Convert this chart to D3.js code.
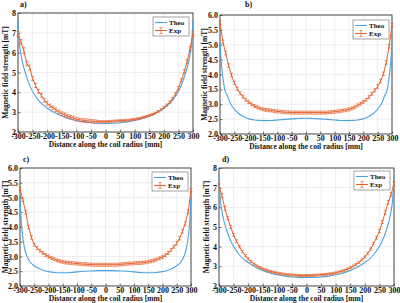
<!DOCTYPE html>
<html>
<head>
<meta charset="utf-8">
<script src="https://cdn.jsdelivr.net/npm/d3@7"></script>
<style>
body { margin: 0; background: #fff; }
svg text { font-family: "Liberation Serif", "Times New Roman", serif; font-weight: bold; fill: #111; }
</style>
</head>
<body>
<svg id="fig" width="400" height="303" font-family="Liberation Serif, serif" font-weight="bold"></svg>
<script>
// x positions (mm)
var expX = d3.range(-300, 301, 10);
var theoX = [-300,-297,-293,-288,-282,-275,-265,-255,-245,-235,-225,-210,-195,-180,-160,-140,-120,-100,-75,-50,-25,0,
	25,50,75,100,120,140,160,180,195,210,225,235,245,255,265,275,282,288,293,297,300];

// theoretical curves
var theoA = [7.7,6.8,6.2,5.75,5.35,5.0,4.55,4.2,3.92,3.7,3.52,3.32,3.15,3.02,2.87,2.75,2.66,2.58,2.51,2.47,2.44,2.43,
	2.44,2.47,2.51,2.58,2.66,2.75,2.87,3.02,3.15,3.32,3.52,3.7,3.92,4.2,4.55,5.0,5.35,5.75,6.2,6.8,7.7];
var theoB = [5.1,4.6,4.15,3.75,3.45,3.3,3.05,2.9,2.78,2.69,2.62,2.55,2.5,2.47,2.455,2.45,2.455,2.47,2.49,2.51,2.52,2.53,
	2.52,2.51,2.49,2.47,2.455,2.45,2.455,2.47,2.5,2.55,2.62,2.69,2.78,2.9,3.05,3.3,3.45,3.75,4.15,4.6,5.1];
var theoC = [5.0,4.4,3.9,3.5,3.2,3.0,2.82,2.72,2.65,2.6,2.56,2.51,2.48,2.46,2.45,2.45,2.46,2.48,2.5,2.51,2.52,2.52,
	2.52,2.51,2.5,2.48,2.46,2.45,2.45,2.46,2.48,2.51,2.56,2.6,2.65,2.72,2.82,3.0,3.2,3.5,3.9,4.4,5.0];
var theoD = [7.65,6.7,6.1,5.65,5.25,4.9,4.48,4.15,3.9,3.68,3.5,3.3,3.14,3.0,2.85,2.73,2.64,2.57,2.5,2.46,2.44,2.43,
	2.44,2.46,2.5,2.57,2.64,2.73,2.85,3.0,3.14,3.3,3.5,3.68,3.9,4.15,4.48,4.9,5.25,5.65,6.1,6.7,7.65];

// experimental values, -300..300 step 10
var expA = [6.95,6.55,6.1,5.45,5.25,4.7,4.35,4.05,3.85,3.6,3.45,3.32,3.22,3.12,3.02,2.93,2.87,2.8,2.74,2.7,2.65,
	2.62,2.6,2.58,2.56,2.55,2.54,2.53,2.52,2.52,2.52,2.53,2.54,2.55,2.56,2.57,2.58,2.59,2.6,2.62,2.64,
	2.67,2.7,2.74,2.78,2.83,2.88,2.95,3.03,3.12,3.24,3.36,3.5,3.68,3.92,4.22,4.6,5.05,5.55,6.2,7.0];
var errA = [0.12,0.12,0.15,0.12,0.12,0.1,0.1,0.1,0.1,0.1,0.1,0.09,0.09,0.09,0.09,0.09,0.09,0.09,0.09,0.09,0.09,
	0.09,0.09,0.09,0.09,0.08,0.08,0.07,0.06,0.05,0.05,0.05,0.05,0.05,0.05,0.05,0.05,0.05,0.05,0.05,0.05,
	0.05,0.05,0.05,0.05,0.05,0.05,0.05,0.05,0.05,0.05,0.05,0.06,0.06,0.07,0.08,0.08,0.1,0.1,0.1,0.12];
var expB = [5.75,5.1,4.72,4.3,3.98,3.72,3.52,3.37,3.25,3.15,3.07,3.0,2.94,2.9,2.86,2.83,2.81,2.8,2.79,2.77,2.76,
	2.75,2.74,2.73,2.73,2.72,2.72,2.72,2.72,2.72,2.72,2.72,2.72,2.72,2.72,2.72,2.72,2.72,2.73,2.74,2.75,
	2.76,2.77,2.79,2.8,2.83,2.86,2.9,2.96,3.02,3.08,3.15,3.24,3.35,3.47,3.6,3.78,4.02,4.4,4.95,5.65];
var errB = [0.06,0.06,0.06,0.06,0.06,0.05,0.05,0.05,0.05,0.05,0.05,0.05,0.05,0.05,0.05,0.05,0.05,0.05,0.05,0.05,0.05,
	0.05,0.05,0.05,0.05,0.05,0.05,0.05,0.05,0.05,0.05,0.05,0.05,0.05,0.05,0.05,0.05,0.05,0.05,0.05,0.05,
	0.05,0.05,0.05,0.05,0.05,0.05,0.05,0.05,0.05,0.05,0.05,0.05,0.05,0.05,0.06,0.06,0.06,0.06,0.06,0.06];
var expC = [5.3,4.92,4.5,4.0,3.65,3.4,3.28,3.2,3.12,3.05,3.0,2.95,2.91,2.87,2.84,2.82,2.8,2.79,2.78,2.77,2.76,
	2.75,2.74,2.74,2.73,2.73,2.72,2.72,2.72,2.72,2.72,2.72,2.72,2.72,2.72,2.73,2.74,2.75,2.76,2.76,2.77,
	2.78,2.78,2.79,2.8,2.82,2.84,2.87,2.9,2.94,2.98,3.04,3.12,3.22,3.33,3.45,3.62,3.85,4.12,4.52,5.25];
var errC = [0.06,0.06,0.06,0.06,0.06,0.05,0.05,0.05,0.05,0.05,0.05,0.05,0.05,0.05,0.05,0.05,0.05,0.05,0.05,0.05,0.05,
	0.05,0.05,0.05,0.05,0.05,0.05,0.05,0.05,0.05,0.05,0.05,0.05,0.05,0.05,0.05,0.05,0.05,0.05,0.05,0.05,
	0.05,0.05,0.05,0.05,0.05,0.05,0.05,0.05,0.05,0.05,0.05,0.05,0.05,0.05,0.06,0.06,0.06,0.06,0.06,0.06];
var expD = [7.1,6.6,5.95,5.45,5.0,4.6,4.28,4.0,3.75,3.55,3.38,3.24,3.12,3.02,2.94,2.87,2.82,2.77,2.73,2.69,2.66,
	2.63,2.61,2.59,2.57,2.56,2.55,2.54,2.53,2.53,2.53,2.53,2.54,2.55,2.56,2.57,2.58,2.6,2.62,2.64,2.67,
	2.71,2.75,2.8,2.86,2.93,3.01,3.1,3.2,3.33,3.48,3.66,3.88,4.15,4.45,4.8,5.25,5.75,6.25,6.65,7.2];
var errD = [0.1,0.1,0.1,0.08,0.08,0.07,0.07,0.06,0.06,0.06,0.06,0.05,0.05,0.05,0.05,0.05,0.05,0.05,0.05,0.05,0.05,
	0.05,0.05,0.05,0.05,0.05,0.05,0.05,0.05,0.05,0.05,0.05,0.05,0.05,0.05,0.05,0.05,0.05,0.05,0.05,0.05,
	0.05,0.05,0.05,0.05,0.05,0.05,0.05,0.05,0.05,0.05,0.06,0.06,0.06,0.07,0.08,0.08,0.1,0.1,0.1,0.1];

var xTicks = d3.range(-300, 301, 50);
var yTicksAD = [2,3,4,5,6,7,8];
var yTicksBC = [2.0,2.5,3.0,3.5,4.0,4.5,5.0,5.5,6.0];

var xTitle = "Distance along the coil radius [mm]";
var yTitle = "Magnetic field strength [mT]";
var legendNames = ["Theo", "Exp"];

var blue = "#4ba3de", orange = "#e4612f";
var serif = "Liberation Serif, Times New Roman, serif";

var panels = [
	{label: "a)", theo: theoA, exp: expA, err: errA, ydom: [2, 8], yt: yTicksAD, fmt: d => String(d),
		l: 18, r: 193, t: 13, b: 132, yo: 10, lab: [20, 7], leg: [153, 17]},
	{label: "b)", theo: theoB, exp: expB, err: errB, ydom: [2, 6], yt: yTicksBC, fmt: d3.format(".1f"),
		l: 220, r: 392, t: 15, b: 134, yo: 13, lab: [245, 7], leg: [353, 20]},
	{label: "c)", theo: theoC, exp: expC, err: errC, ydom: [2, 6], yt: yTicksBC, fmt: d3.format(".1f"),
		l: 20, r: 191, t: 168, b: 286, yo: 12.5, lab: [23, 162], leg: [152, 172]},
	{label: "d)", theo: theoD, exp: expD, err: errD, ydom: [2, 8], yt: yTicksAD, fmt: d => String(d),
		l: 219, r: 394, t: 168, b: 286, yo: 10, lab: [222, 162], leg: [354, 171]}
];

var svg = d3.select("#fig");

panels.forEach(function(p) {
	var x = d3.scaleLinear().domain([-300, 300]).range([p.l, p.r]);
	var y = d3.scaleLinear().domain(p.ydom).range([p.b, p.t]);
	var g = svg.append("g");

	// grid
	g.selectAll(".gx").data(xTicks).enter().append("line")
		.attr("x1", d => x(d)).attr("x2", d => x(d)).attr("y1", p.t).attr("y2", p.b)
		.attr("stroke", "#e3e3e3").attr("stroke-width", 0.6);
	g.selectAll(".gy").data(p.yt).enter().append("line")
		.attr("y1", d => y(d)).attr("y2", d => y(d)).attr("x1", p.l).attr("x2", p.r)
		.attr("stroke", "#e3e3e3").attr("stroke-width", 0.6);

	// axes (ticks inside, like matlab); hyphen minus like the original
	var xa = g.append("g").attr("transform", "translate(0," + p.b + ")")
		.call(d3.axisBottom(x).tickValues(xTicks).tickSize(-2.5).tickPadding(2.5).tickFormat(d => String(d)));
	var ya = g.append("g").attr("transform", "translate(" + p.l + ",0)")
		.call(d3.axisLeft(y).tickValues(p.yt).tickSize(-2.5).tickPadding(2).tickFormat(p.fmt));
	[xa, ya].forEach(function(a) {
		a.attr("font-family", serif).attr("font-weight", "bold");
		a.select(".domain").remove();
		a.selectAll("line").attr("stroke", "#222").attr("stroke-width", 0.6);
		a.selectAll("text").attr("font-size", 8).attr("fill", "#111");
	});
	xa.selectAll("text").attr("dy", "0.62em");

	// box
	g.append("rect").attr("x", p.l).attr("y", p.t).attr("width", p.r - p.l).attr("height", p.b - p.t)
		.attr("fill", "none").attr("stroke", "#222").attr("stroke-width", 0.8);

	var plot = g.append("g");

	// theoretical line
	plot.append("path").datum(theoX.map((v, i) => [v, p.theo[i]]))
		.attr("fill", "none").attr("stroke", blue).attr("stroke-width", 1.1)
		.attr("d", d3.line().x(d => x(d[0])).y(d => y(d[1])).curve(d3.curveMonotoneX));

	// experimental line + error bars
	var ed = expX.map((v, i) => [v, p.exp[i], p.err[i]]);
	plot.append("path").datum(ed)
		.attr("fill", "none").attr("stroke", orange).attr("stroke-width", 1)
		.attr("d", d3.line().x(d => x(d[0])).y(d => y(d[1])));
	var eb = plot.selectAll(".eb").data(ed).enter().append("g").attr("class", "eb")
		.attr("stroke", orange).attr("stroke-width", 0.7);
	eb.append("line").attr("x1", d => x(d[0])).attr("x2", d => x(d[0]))
		.attr("y1", d => y(d[1] - d[2])).attr("y2", d => y(d[1] + d[2]));
	eb.append("line").attr("x1", d => x(d[0]) - 1.5).attr("x2", d => x(d[0]) + 1.5)
		.attr("y1", d => y(d[1] - d[2])).attr("y2", d => y(d[1] - d[2]));
	eb.append("line").attr("x1", d => x(d[0]) - 1.5).attr("x2", d => x(d[0]) + 1.5)
		.attr("y1", d => y(d[1] + d[2])).attr("y2", d => y(d[1] + d[2]));

	// titles
	g.append("text").attr("x", (p.l + p.r) / 2).attr("y", p.b + 14.5).attr("text-anchor", "middle")
		.attr("font-size", 7.5).text(xTitle);
	g.append("text").attr("transform", "translate(" + (p.l - p.yo) + "," + ((p.t + p.b) / 2) + ") rotate(-90)")
		.attr("text-anchor", "middle").attr("font-size", 7.5).text(yTitle);
	g.append("text").attr("x", p.lab[0]).attr("y", p.lab[1]).attr("font-size", 8).text(p.label);

	// legend
	var lg = g.append("g").attr("transform", "translate(" + p.leg[0] + "," + p.leg[1] + ")");
	lg.append("rect").attr("width", 36).attr("height", 19).attr("fill", "#fff")
		.attr("stroke", "#666").attr("stroke-width", 0.6);
	lg.append("line").attr("x1", 2).attr("x2", 14).attr("y1", 5.5).attr("y2", 5.5)
		.attr("stroke", blue).attr("stroke-width", 1.1);
	lg.append("line").attr("x1", 2).attr("x2", 14).attr("y1", 13.5).attr("y2", 13.5)
		.attr("stroke", orange).attr("stroke-width", 1);
	lg.append("line").attr("x1", 8).attr("x2", 8).attr("y1", 10.5).attr("y2", 16.5)
		.attr("stroke", orange).attr("stroke-width", 0.7);
	lg.append("line").attr("x1", 6.5).attr("x2", 9.5).attr("y1", 10.5).attr("y2", 10.5)
		.attr("stroke", orange).attr("stroke-width", 0.7);
	lg.append("line").attr("x1", 6.5).attr("x2", 9.5).attr("y1", 16.5).attr("y2", 16.5)
		.attr("stroke", orange).attr("stroke-width", 0.7);
	lg.selectAll(".lt").data(legendNames).enter().append("text")
		.attr("x", 16).attr("y", (d, i) => 8 + i * 8).attr("font-size", 7).text(d => d);
});
</script>
</body>
</html>
